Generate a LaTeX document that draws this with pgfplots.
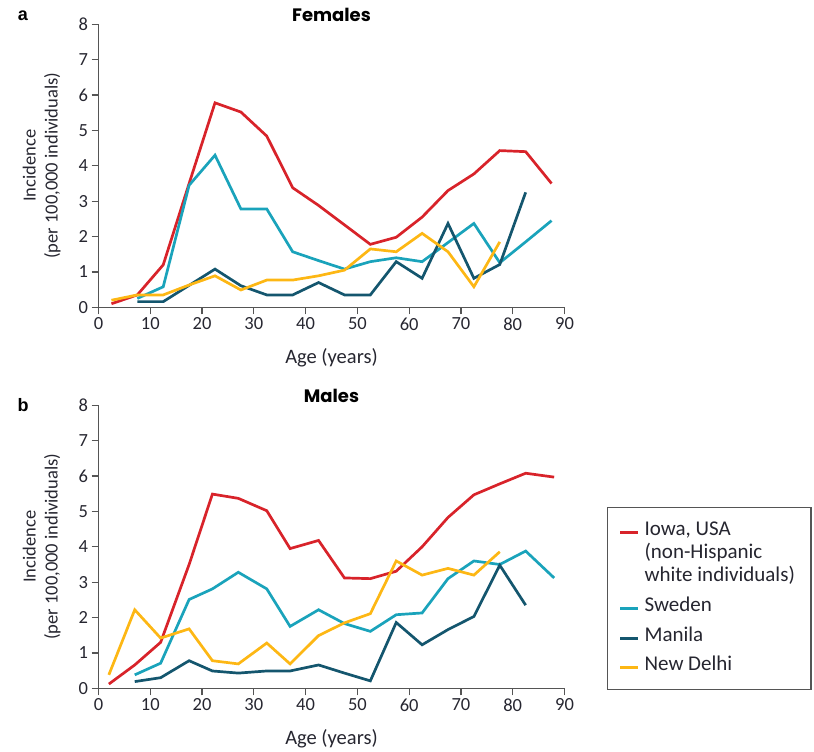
\documentclass[border=0pt]{standalone}
\usepackage{fontspec}
\setmainfont{Carlito}
\newfontfamily\titlefont{Poppins}
\newfontfamily\letterfont{Liberation Sans}
\usepackage{pgfplots}
\pgfplotsset{compat=1.18}
\definecolor{iowa}{HTML}{D8232A}
\definecolor{swe}{HTML}{1AA3BB}
\definecolor{man}{HTML}{14566E}
\definecolor{del}{HTML}{FDB714}
\definecolor{axgray}{HTML}{555555}
\definecolor{txt}{HTML}{262630}
\pgfplotsset{panel/.style={
  scale only axis, width=466pt, height=283pt,
  xmin=0, xmax=90, ymin=0, ymax=8,
  axis x line*=bottom, axis y line*=left,
  axis line style={-, line width=1.3pt, color=axgray},
  xtick={0,10,...,90}, ytick={0,1,...,8},
  tick style={line width=1.3pt, color=axgray},
  tick align=outside, major tick length=7pt,
  tick label style={font=\fontsize{18.5}{20}\selectfont, color=txt},
  /pgf/number format/assume math mode=true,
  xlabel={Age (years)},
  ylabel={Incidence\\(per 100,000 individuals)},
  ylabel style={align=center, font=\fontsize{18.5}{22}\selectfont, color=txt},
  xlabel style={font=\fontsize{20.5}{22}\selectfont, color=txt},
  ylabel shift=11pt, xlabel shift=11pt,
  title style={font=\titlefont\bfseries\fontsize{18}{20}\selectfont, color=black, at={(axis description cs:0.5,1)}, anchor=south, yshift=-7pt},
  clip=false,
  every axis plot/.append style={line width=2.7pt, no markers},
}}
\begin{document}
\begin{tikzpicture}
\path (0pt,0pt) rectangle (814pt,-752pt);
\begin{axis}[panel, at={(98.5pt,-307.3pt)}, anchor=south west, title={Females}]
\addplot[iowa] coordinates {(2.5,0.1)(7.5,0.35)(12.5,1.2)(17.5,3.5)(22.5,5.78)(27.5,5.52)(32.5,4.84)(37.5,3.38)(42.5,2.88)(47.5,2.33)(52.5,1.78)(57.5,1.98)(62.5,2.55)(67.5,3.3)(72.5,3.77)(77.5,4.43)(82.5,4.4)(87.5,3.5)};
\addplot[swe] coordinates {(7.5,0.25)(12.5,0.58)(17.5,3.45)(22.5,4.3)(27.5,2.78)(32.5,2.78)(37.5,1.57)(42.5,1.32)(47.5,1.08)(52.5,1.29)(57.5,1.4)(62.5,1.29)(67.5,1.83)(72.5,2.37)(77.5,1.26)(82.5,1.85)(87.5,2.45)};
\addplot[man] coordinates {(7.5,0.16)(12.5,0.16)(17.5,0.62)(22.5,1.08)(27.5,0.61)(32.5,0.35)(37.5,0.35)(42.5,0.7)(47.5,0.35)(52.5,0.35)(57.5,1.29)(62.5,0.82)(67.5,2.37)(72.5,0.82)(77.5,1.21)(82.5,3.25)};
\addplot[del] coordinates {(2.5,0.2)(7.5,0.35)(12.5,0.35)(17.5,0.63)(22.5,0.89)(27.5,0.49)(32.5,0.77)(37.5,0.77)(42.5,0.89)(47.5,1.05)(52.5,1.65)(57.5,1.57)(62.5,2.09)(67.5,1.57)(72.5,0.58)(77.5,1.85)};
\end{axis}
\begin{axis}[panel, at={(98.5pt,-688.3pt)}, anchor=south west, title={Males},
  legend style={at={(axis description cs:1.091,-0.006)}, anchor=south west,
    draw=axgray, line width=1.3pt, font=\fontsize{21}{23}\selectfont, text=txt,
    inner xsep=11pt, inner ysep=12pt, row sep=0pt, column sep=0pt,
    cells={anchor=base west}, nodes={inner ysep=0pt, inner xsep=5pt}},
  legend image code/.code={\draw[#1, line width=3pt] (0pt,0.3em) -- (18pt,0.3em);}]
\addplot[iowa] coordinates {(2,0.12)(7,0.66)(12,1.3)(17.5,3.5)(22,5.49)(27,5.37)(32.5,5.02)(37,3.95)(42.5,4.18)(47.5,3.12)(52.5,3.1)(57.5,3.31)(62.5,4.0)(67.5,4.83)(72.5,5.47)(77.5,5.78)(82.5,6.08)(88,5.97)};
\addlegendentry[text height=16pt, text depth=7pt]{Iowa, USA}
\addlegendimage{empty legend}
\addlegendentry[text height=16pt, text depth=7pt]{(non-Hispanic}
\addlegendimage{empty legend}
\addlegendentry[text height=16pt, text depth=11pt]{white individuals)}
\addplot[swe] coordinates {(7,0.38)(12,0.71)(17.5,2.51)(22,2.81)(27,3.28)(32.5,2.81)(37,1.75)(42.5,2.22)(47.5,1.83)(52.5,1.61)(57.5,2.08)(62.5,2.13)(67.5,3.1)(72.5,3.6)(77.5,3.5)(82.5,3.88)(88,3.12)};
\addlegendentry[text height=19pt, text depth=11pt]{Sweden}
\addplot[man] coordinates {(7,0.19)(12,0.3)(17.5,0.78)(22,0.49)(27,0.43)(32.5,0.49)(37,0.49)(42.5,0.66)(47.5,0.43)(52.5,0.21)(57.5,1.86)(62.5,1.23)(67.5,1.66)(72.5,2.03)(77.5,3.48)(82.5,2.35)};
\addlegendentry[text height=19pt, text depth=10pt]{Manila}
\addplot[del] coordinates {(2,0.38)(7,2.22)(12,1.42)(17.5,1.68)(22,0.78)(27,0.69)(32.5,1.28)(37,0.69)(42.5,1.49)(47.5,1.85)(52.5,2.11)(57.5,3.6)(62.5,3.2)(67.5,3.39)(72.5,3.2)(77.5,3.86)};
\addlegendentry[text height=19pt, text depth=7pt]{New Delhi}
\end{axis}
\node[font=\letterfont\bfseries\fontsize{18}{20}\selectfont, anchor=center] at (23pt,-16pt) {a};
\node[font=\letterfont\bfseries\fontsize{18}{20}\selectfont, anchor=center] at (23pt,-405pt) {b};
\end{tikzpicture}
\end{document}
